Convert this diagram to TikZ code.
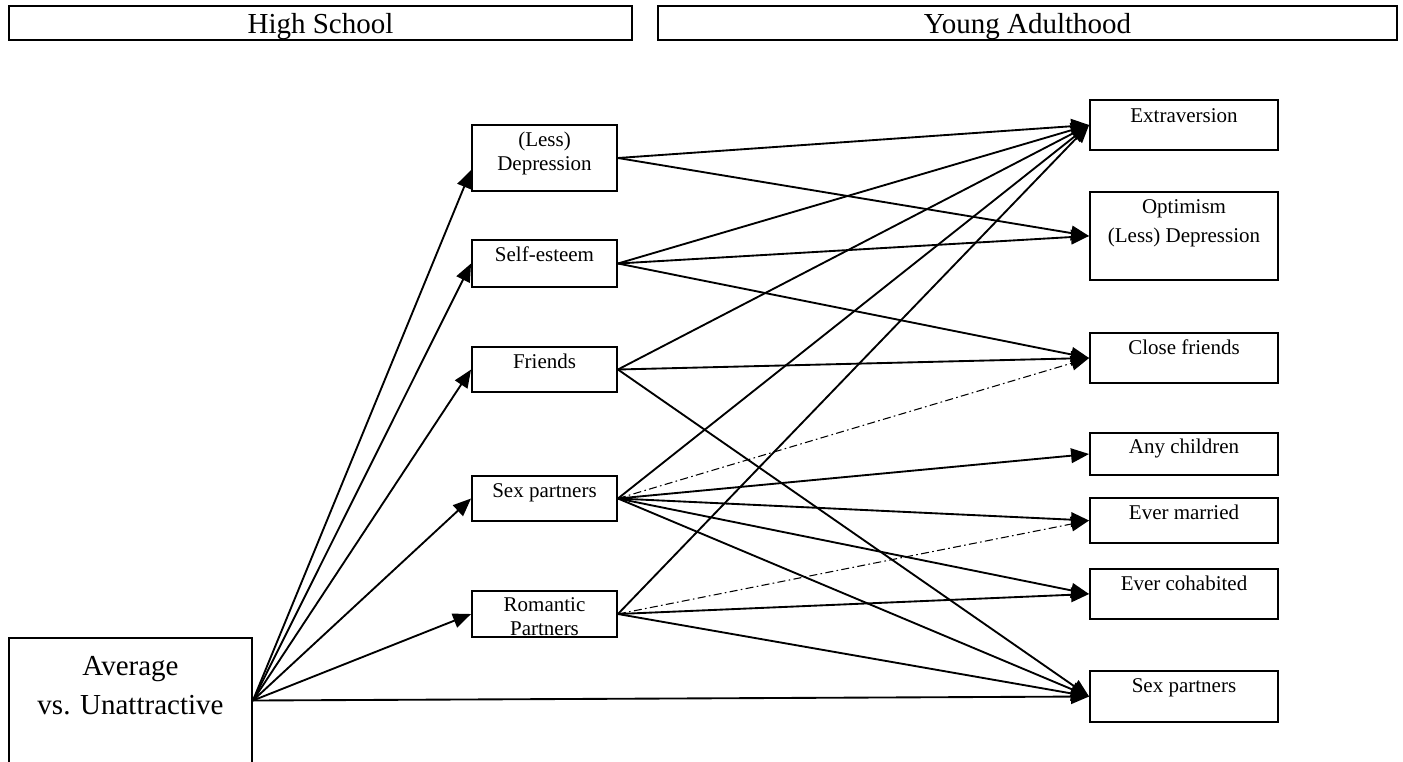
\documentclass[tikz,border=0pt]{standalone}
\usepackage{fontspec}
\setmainfont{Liberation Serif}
\usetikzlibrary{arrows.meta}
\begin{document}
\begin{tikzpicture}[x=0.75pt,y=-0.75pt,
  box/.style={draw, line width=1.4pt, rectangle, inner sep=0pt},
  lbox/.style={box, minimum width=108.75pt},
  rbox/.style={box, minimum width=141pt},
  big/.style={font=\fontsize{21.75}{29}\selectfont, align=center, inner sep=0pt, anchor=base},
  small/.style={font=\fontsize{15.75}{18}\selectfont, align=center, inner sep=0pt, anchor=base},
  link/.style={line width=1.4pt, -{Triangle[length=13.5pt,width=11pt]}},
  dlink/.style={link, line width=0.8pt, dash pattern=on 6pt off 2.5pt on 1.2pt off 2.5pt}
]
\useasboundingbox (0,0) rectangle (1403,761);
\clip (0,0) rectangle (1403,761);

% period headers
\node[box, minimum width=467.25pt, minimum height=25.5pt] (hs) at (320.5,23) {};
\node[big] (hs-t) at (320.5,33) {High School};
\node[box, minimum width=554.25pt, minimum height=25.5pt] (ya) at (1027.5,23) {};
\node[big] (ya-t) at (1027.5,33) {Young Adulthood};

% predictor (text nodes are placed by the baseline of their last line)
\node[box, minimum width=182.25pt, minimum height=93.75pt] (avg) at (130.5,700.5) {};
\node[big] (avg-t) at (130.5,714) {Average\\vs. Unattractive};

% high school mediators
\node[lbox, minimum height=49.5pt]  (ld) at (544.5,158) {};
\node[small] (ld-t) at (544.5,170) {(Less)\\Depression};
\node[lbox, minimum height=35.25pt] (se) at (544.5,263.5) {};
\node[small] (se-t) at (544.5,261) {Self-esteem};
\node[lbox, minimum height=33.75pt] (fr) at (544.5,369.5) {};
\node[small] (fr-t) at (544.5,368) {Friends};
\node[lbox, minimum height=33.75pt] (sp) at (544.5,498.5) {};
\node[small] (sp-t) at (544.5,497) {Sex partners};
\node[lbox, minimum height=34.5pt]  (ro) at (544.5,614) {};
\node[small] (ro-t) at (544.5,635) {Romantic\\Partners};

% young adult outcomes
\node[rbox, minimum height=37.5pt]  (ex) at (1184,125) {};
\node[small] (ex-t) at (1184,122) {Extraversion};
\node[rbox, minimum height=66pt]    (op) at (1184,236) {};
\node[small, font=\fontsize{15.75}{21.75}\selectfont] (op-t) at (1184,242) {Optimism\\(Less) Depression};
\node[rbox, minimum height=37.5pt]  (cf) at (1184,358) {};
\node[small] (cf-t) at (1184,354) {Close friends};
\node[rbox, minimum height=31.5pt]  (ac) at (1184,454) {};
\node[small] (ac-t) at (1184,453) {Any children};
\node[rbox, minimum height=33.75pt] (em) at (1184,520.5) {};
\node[small] (em-t) at (1184,519) {Ever married};
\node[rbox, minimum height=37.5pt]  (ec) at (1184,594) {};
\node[small] (ec-t) at (1184,590) {Ever cohabited};
\node[rbox, minimum height=38.25pt] (sr) at (1184,696.5) {};
\node[small] (sr-t) at (1184,692) {Sex partners};

% paths from attractiveness
\draw[link] (avg.east) -- ([yshift=-9pt]ld.west);
\draw[link] (avg.east) -- (se.west);
\draw[link] (avg.east) -- (fr.west);
\draw[link] (avg.east) -- (sp.west);
\draw[link] (avg.east) -- (ro.west);
\draw[link] (avg.east) -- (sr.west);

% paths from high school mediators
\draw[link] (ld.east) -- (ex.west);
\draw[link] (ld.east) -- (op.west);
\draw[link] (se.east) -- (ex.west);
\draw[link] (se.east) -- (op.west);
\draw[link] (se.east) -- (cf.west);
\draw[link] (fr.east) -- (ex.west);
\draw[link] (fr.east) -- (cf.west);
\draw[link] (fr.east) -- (sr.west);
\draw[link] (sp.east) -- (ex.west);
\draw[dlink] (sp.east) -- (cf.west);
\draw[link] (sp.east) -- (ac.west);
\draw[link] (sp.east) -- (em.west);
\draw[link] (sp.east) -- (ec.west);
\draw[link] (sp.east) -- (sr.west);
\draw[link] (ro.east) -- (ex.west);
\draw[dlink] (ro.east) -- (em.west);
\draw[link] (ro.east) -- (ec.west);
\draw[link] (ro.east) -- (sr.west);
\end{tikzpicture}
\end{document}
